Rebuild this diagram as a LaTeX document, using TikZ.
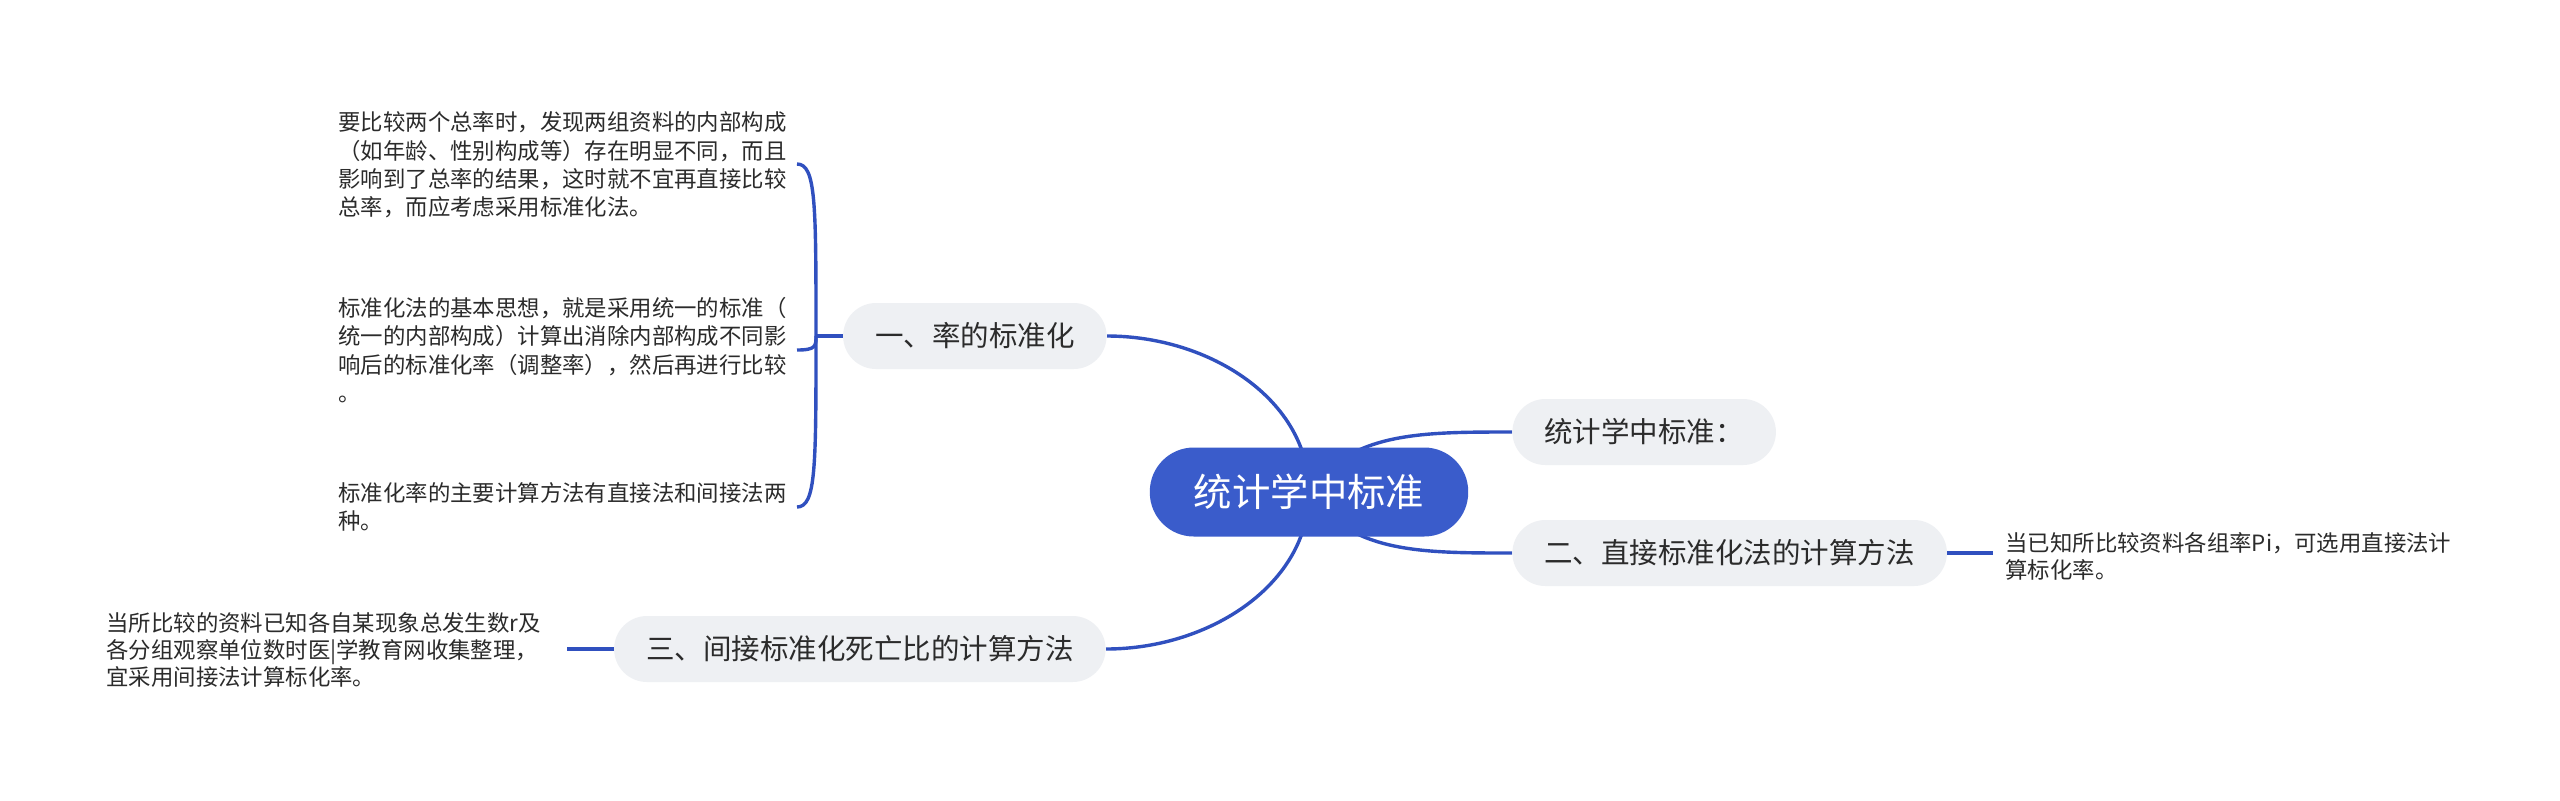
\documentclass[tikz,border=0pt]{standalone}
\usepackage{fontspec}
\setmainfont{Noto Sans CJK SC}
\definecolor{lineblue}{HTML}{3050BF}
\definecolor{rootblue}{HTML}{3A5CCB}
\definecolor{nodegrey}{HTML}{EEF0F3}
\definecolor{txt}{HTML}{2B2B2B}
\pgfdeclarelayer{bg}
\pgfsetlayers{bg,main}
\begin{document}
\begin{tikzpicture}[x=0.5pt,y=-0.5pt,
  conn/.style={draw=lineblue, line width=1.7pt},
  branch/.style={fill=nodegrey, rounded corners=16.5pt, minimum height=33pt, inner xsep=16pt, inner ysep=0pt, font=\fontsize{14.25}{17}\selectfont, text=txt},
  rootnode/.style={fill=rootblue, rounded corners=22pt, minimum height=44.5pt, inner xsep=22pt, inner ysep=0pt, font=\fontsize{19.2}{23}\selectfont, text=white},
  leaf/.style={anchor=west, align=left, inner sep=0pt, text=txt, font=\fontsize{11.2}{14.2}\selectfont},
  leafb/.style={leaf, font=\fontsize{11.2}{13.5}\selectfont}]
\useasboundingbox (0,0) rectangle (2560,800);

\node[rootnode] (root) at (1309,492) {统计学中标准};
\node[branch, anchor=east] (n1) at (1107,336) {一、率的标准化};
\node[branch, anchor=west] (n0) at (1512,432) {统计学中标准：};
\node[branch, anchor=west] (n2) at (1512,553) {二、直接标准化法的计算方法};
\node[branch, anchor=east] (n3) at (1106,649) {三、间接标准化死亡比的计算方法};

\node[leaf] (t1) at (338,165) {要比较两个总率时，发现两组资料的内部构成\\（如年龄、性别构成等）存在明显不同，而且\\影响到了总率的结果，这时就不宜再直接比较\\总率，而应考虑采用标准化法。};
\node[leaf] (t2) at (338,350) {标准化法的基本思想，就是采用统一的标准（\\统一的内部构成）计算出消除内部构成不同影\\响后的标准化率（调整率），然后再进行比较\\。};
\node[leaf] (t3) at (338,507) {标准化率的主要计算方法有直接法和间接法两\\种。};
\node[leafb] (rl) at (2005,556) {当已知所比较资料各组率Pi，可选用直接法计\\算标化率。};
\node[leafb] (ll) at (106,650) {当所比较的资料已知各自某现象总发生数r及\\各分组观察单位数时医|学教育网收集整理，\\宜采用间接法计算标化率。};

\coordinate (bj) at (816,336);
\coordinate (h1) at (797,164);
\coordinate (h2) at (797,350);
\coordinate (h3) at (797,507);
\coordinate (rlend) at (1993,553);
\coordinate (llend) at (567,649);

\begin{pgfonlayer}{bg}
\fill[white] (0,0) rectangle (2560,800);
\draw[conn] (root.center) .. controls (1309,400) and (1210,336) .. (n1.east);
\draw[conn] (root.center) .. controls (1309,584) and (1210,649) .. (n3.east);
\draw[conn] (root.center) .. controls (1350,432) and (1420,432) .. (n0.west);
\draw[conn] (root.center) .. controls (1350,553) and (1420,553) .. (n2.west);
\draw[conn] (n1.west) -- (bj);
\draw[conn] (bj) .. controls (816,204) and (816,164) .. (h1);
\draw[conn] (bj) .. controls (816,346) and (816,350) .. (h2);
\draw[conn] (bj) .. controls (816,467) and (816,507) .. (h3);
\draw[conn] (n2.east) -- (rlend);
\draw[conn] (n3.west) -- (llend);
\end{pgfonlayer}
\end{tikzpicture}
\end{document}
